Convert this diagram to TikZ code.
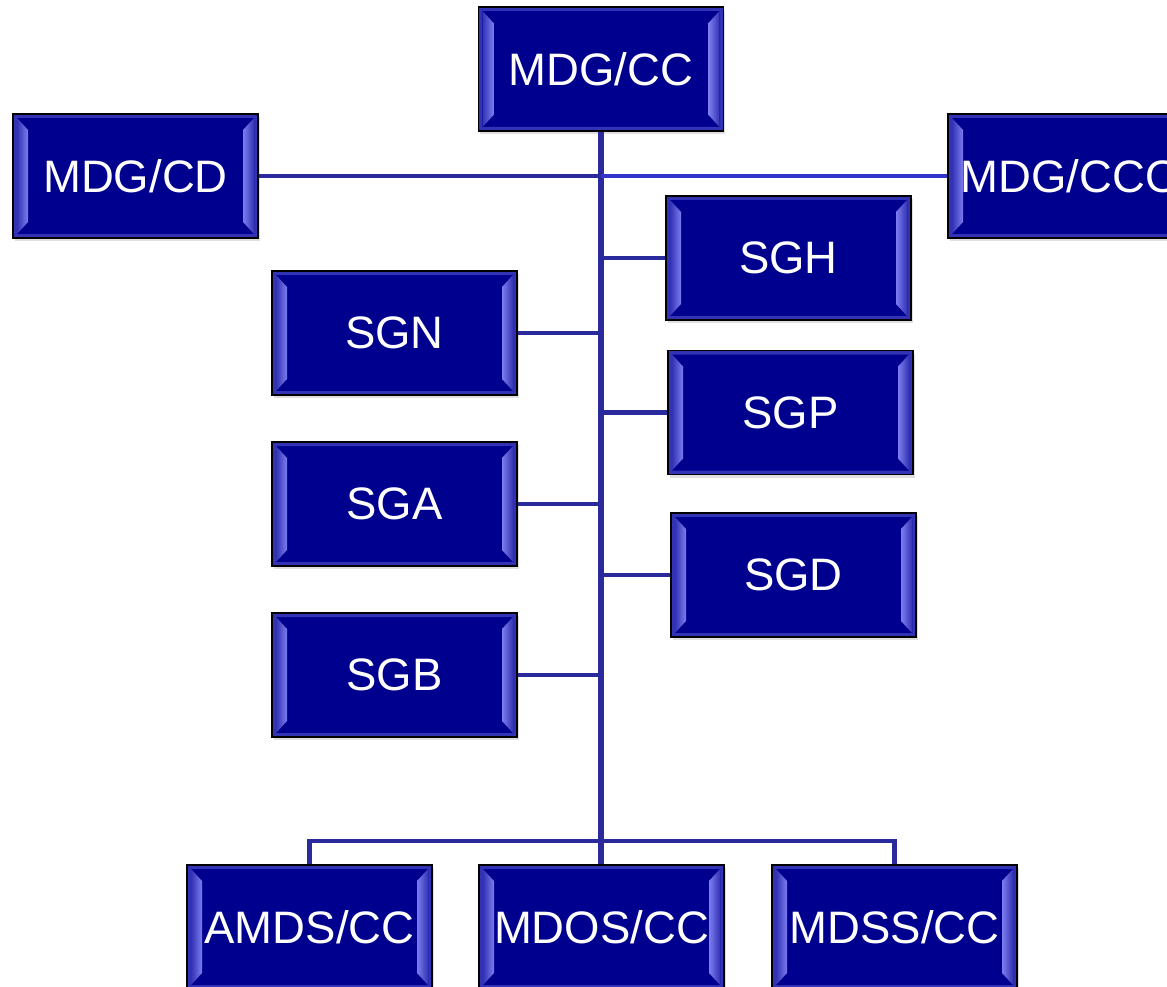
\documentclass[tikz,border=0pt]{standalone}
\usepackage{fontspec}
\setmainfont{Liberation Sans}
\usetikzlibrary{calc,shadows}
\definecolor{navy}{RGB}{0,0,142}
\definecolor{rimc}{RGB}{50,50,180}
\definecolor{bevc}{RGB}{125,125,240}
\definecolor{linec}{RGB}{42,42,156}
\definecolor{lineb}{RGB}{50,50,205}
\tikzset{
  box/.style={draw=black, line width=1.3pt, fill=navy, minimum width=245pt, minimum height=124pt,
    inner sep=0pt, text=white, font=\fontsize{45.5}{54}\selectfont,
    drop shadow={opacity=0.25, shadow xshift=1.5pt, shadow yshift=-3pt},
    path picture={
      \path (path picture bounding box.south west) coordinate (pa)
            (path picture bounding box.north east) coordinate (pb);
      \fill[rimc, even odd rule] (pa) rectangle (pb) ($(pa)+(4pt,4pt)$) rectangle ($(pb)-(4pt,4pt)$);
      \fill[left color=rimc, right color=bevc] ($(pa)+(4pt,4pt)$) -- ($(pa)+(15pt,16pt)$) -- ($(pa|-pb)+(15pt,-16pt)$) -- ($(pa|-pb)+(4pt,-4pt)$) -- cycle;
      \fill[left color=bevc, right color=rimc] ($(pb|-pa)+(-4pt,4pt)$) -- ($(pb|-pa)+(-15pt,16pt)$) -- ($(pb)+(-15pt,-16pt)$) -- ($(pb)+(-4pt,-4pt)$) -- cycle;
    }},
  conn/.style={draw=linec, line width=4.5pt},
  trunk/.style={draw=linec, line width=5.5pt},
  connb/.style={draw=lineb, line width=4.5pt}
}
\begin{document}
\begin{tikzpicture}[x=1pt,y=-1pt]
\useasboundingbox (0,0) rectangle (1167,987);
\clip (0,0) rectangle (1167,987);
\coordinate (bus) at (601,841);
\node[box] (cc) at (601,69) {MDG/CC};
\node[box] (cd) at (135.5,176) {MDG/CD};
\node[box] (cco) at (1070.5,176) {MDG/CCO};
\node[box] (sgh) at (788.5,258) {SGH};
\node[box] (sgn) at (394.5,333) {SGN};
\node[box] (sgp) at (790.5,412.5) {SGP};
\node[box] (sga) at (394.5,504) {SGA};
\node[box] (sgd) at (793.5,575) {SGD};
\node[box] (sgb) at (394.5,675) {SGB};
\node[box] (amds) at (309.5,927) {AMDS/CC};
\node[box] (mdos) at (601.5,927) {MDOS/CC};
\node[box] (mdss) at (894.5,927) {MDSS/CC};
\draw[trunk] (cc.south) -- (cc.south |- mdos.north);
\draw[conn] (cd.east) -- (cd.east -| cc.south);
\draw[connb] (cco.west) -- (cco.west -| cc.south);
\draw[conn] (sgh.west) -- (sgh.west -| cc.south);
\draw[conn] (sgn.east) -- (sgn.east -| cc.south);
\draw[conn] (sgp.west) -- (sgp.west -| cc.south);
\draw[conn] (sga.east) -- (sga.east -| cc.south);
\draw[conn] (sgd.west) -- (sgd.west -| cc.south);
\draw[conn] (sgb.east) -- (sgb.east -| cc.south);
\draw[conn] (amds.north) |- (bus);
\draw[conn] (mdss.north) |- (bus);
\end{tikzpicture}
\end{document}
